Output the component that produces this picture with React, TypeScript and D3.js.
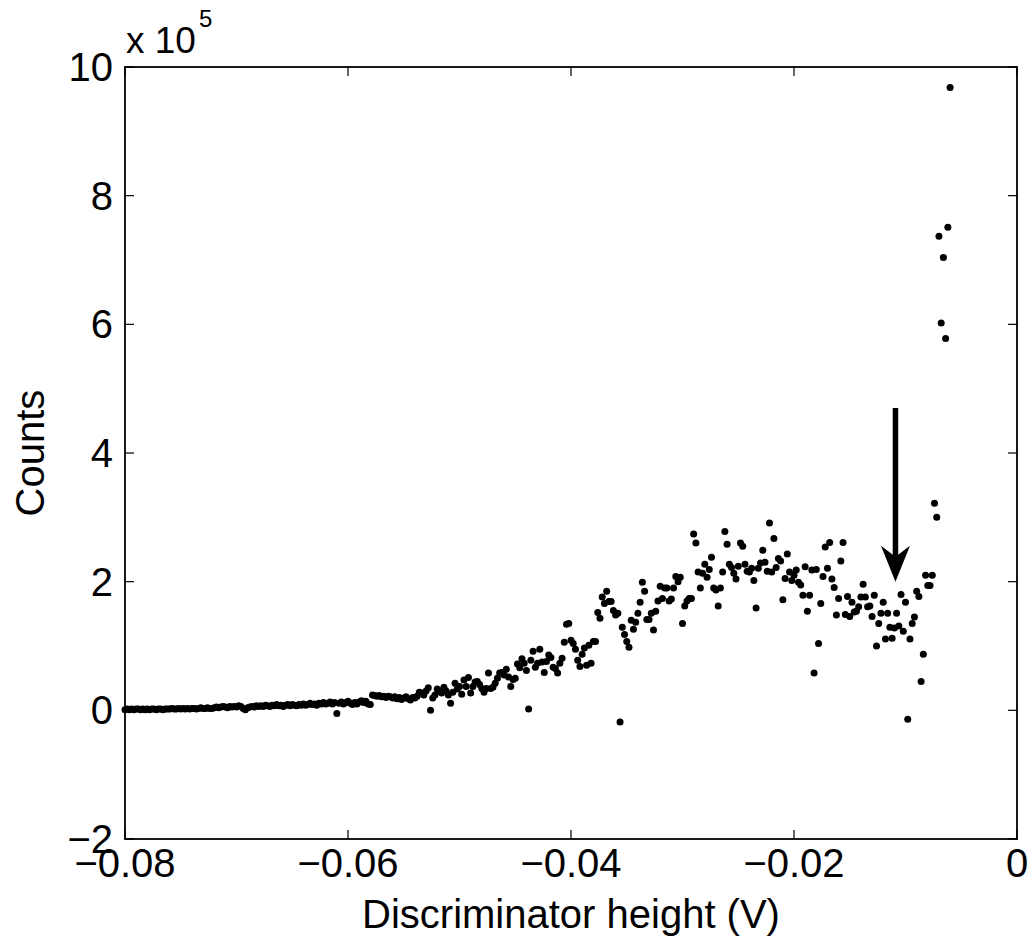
import React from 'react';
import * as d3 from 'd3';

// Discriminator sweep: first threshold and step (V)
const xStart = -0.08;
const xStep = 0.0002;

// Counts (x 10^5), in order of increasing threshold
const countsLow = [
  0.01, 0.02, 0.01, 0.02, 0.01, 0.02, 0.02, 0.01, 0.02, 0.01, 0.02, 0.01, 0.02, 0.02, 0.01, 0.02, 0.02, 0.01, 0.02, 0.02,
  0.02, 0.03, 0.02, 0.02, 0.03, 0.02, 0.03, 0.02, 0.03, 0.02, 0.03, 0.03, 0.02, 0.03, 0.04, 0.03, 0.03, 0.04, 0.03, 0.03,
  0.04, 0.05, 0.04, 0.05, 0.06, 0.05, 0.04, 0.06, 0.05, 0.06, 0.05, 0.07, 0.06, 0.03, 0.01, 0.04, 0.05, 0.06, 0.05, 0.07,
  0.06, 0.07, 0.06, 0.08, 0.07, 0.06, 0.08, 0.07, 0.09, 0.07, 0.08, 0.06, 0.08, 0.09, 0.07, 0.09, 0.08, 0.07, 0.09, 0.08,
  0.10, 0.08, 0.09, 0.11, 0.09, 0.10, 0.08, 0.11, 0.10, 0.12, 0.10, 0.11, 0.13, 0.10, 0.12, -0.05, 0.11, 0.13, 0.10, 0.12,
  0.14, 0.11, 0.09, 0.12, 0.10, 0.13, 0.15, 0.12, 0.14, 0.10, 0.09, 0.24, 0.23, 0.22, 0.23, 0.21, 0.22, 0.20, 0.22, 0.21,
  0.19, 0.21, 0.18, 0.20, 0.17, 0.19, 0.21, 0.18, 0.16, 0.20, 0.19, 0.22,
];

const countsMid = [
  0.28, 0.27, 0.24, 0.30, 0.35, 0.00, 0.19, 0.24, 0.33, 0.30,
  0.27, 0.36, 0.30, 0.24, 0.11, 0.28, 0.42, 0.33, 0.37, 0.25,
  0.47, 0.37, 0.51, 0.27, 0.37, 0.44, 0.45, 0.40, 0.34, 0.28,
  0.34, 0.58, 0.34, 0.36, 0.42, 0.50, 0.58, 0.59, 0.55, 0.64,
  0.52, 0.37, 0.48, 0.50, 0.72, 0.66, 0.80, 0.73, 0.62, 0.02,
  0.78, 0.92, 0.67, 0.73, 0.95, 0.75, 0.59, 0.76, 0.86, 0.82,
  0.67, 0.65, 0.58, 0.73, 0.81, 1.06, 1.34, 1.35, 1.09, 1.04,
  0.95, 0.78, 0.68, 0.87, 0.97, 0.70, 1.01, 0.73, 1.07, 1.07,
  1.52, 1.43, 1.76, 1.66, 1.85, 1.69, 1.69, 1.55, 1.48, 1.51,
  -0.18, 1.29, 1.18, 1.07, 0.98, 1.40, 1.26, 1.37, 1.51, 1.68,
  1.99, 1.85, 1.41, 1.41, 1.51, 1.25, 1.54, 1.70, 1.93, 1.74,
  1.90, 1.90, 1.70, 1.73, 1.90, 2.08, 2.00, 2.07, 1.35, 1.62,
  1.70, 1.74, 1.74,
];

const countsHigh = [
  2.74, 2.60, 2.15, 1.90, 2.13, 2.27, 2.07, 2.19, 2.38, 1.90,
  1.87, 1.62, 1.90, 2.15, 2.78, 2.58, 2.27, 2.22, 2.13, 2.04,
  2.24, 2.60, 2.55, 2.27, 2.16, 2.15, 2.21, 2.02, 1.59, 2.21,
  2.29, 2.49, 2.30, 2.16, 2.91, 2.15, 2.67, 2.22, 2.36, 2.32,
  1.72, 2.05, 2.43, 2.15, 2.02, 2.10, 2.18, 1.99, 1.95, 1.79,
  2.23, 1.54, 1.79, 2.18, 0.58, 2.19, 1.04, 1.66, 2.08, 2.54,
  2.21, 2.61, 2.04, 1.91, 1.48, 1.74, 2.32, 2.61, 1.49, 1.77,
  1.46, 1.68, 1.53, 1.54, 1.61, 1.76, 1.96, 1.76, 1.61, 1.62,
  1.46, 1.79, 1.00, 1.35, 1.51, 1.68, 1.11, 1.51, 1.29, 1.12,
  1.28, 1.51, 1.31, 1.80, 1.23, 1.68, -0.14, 1.11, 1.35, 1.45,
  1.85, 1.77, 0.45, 0.87, 2.10, 1.94, 1.94, 2.10, 3.22, 3.00,
  7.37, 6.02, 7.04, 5.78, 7.51, 9.68,
];

const xTicks = [-0.08, -0.06, -0.04, -0.02, 0];
const xTickLabels = ['\u22120.08', '\u22120.06', '\u22120.04', '\u22120.02', '0'];
const yTicks = [-2, 0, 2, 4, 6, 8, 10];
const yTickLabels = ['\u22122', '0', '2', '4', '6', '8', '10'];

// Arrow annotation (data coords: x in V, y in x10^5)
const arrowX = -0.0109;
const arrowTop = 4.7;
const arrowTip = 2.0;

const W = 1033;
const H = 942;
const M = { left: 125, right: 1017, top: 67, bottom: 839 };
const FONT = '"Liberation Sans", Arial, Helvetica, sans-serif';

export default function App() {
  const counts = [...countsLow, ...countsMid, ...countsHigh];
  const data = counts.map((c, i) => ({ x: xStart + i * xStep, y: c }));

  const x = d3.scaleLinear().domain([-0.08, 0]).range([M.left, M.right]);
  const y = d3.scaleLinear().domain([-2, 10]).range([M.bottom, M.top]);
  const tick = 9;

  const ax = x(arrowX);
  const aTop = y(arrowTop);
  const aTip = y(arrowTip);
  const headLen = 36;
  const headHalf = 14.5;
  const notch = 11;

  return (
    <svg width={W} height={H} style={{ position: 'absolute', left: 0, top: 0, display: 'block', background: '#fff' }}
      fontFamily={FONT}>
      <rect x={0} y={0} width={W} height={H} fill="#fff" />
      {/* points */}
      <g>
        {data.map((d, i) => (
          <circle key={i} cx={x(d.x)} cy={y(d.y)} r={3.5} fill="#000" />
        ))}
      </g>
      {/* arrow */}
      <line x1={ax} y1={aTop} x2={ax} y2={aTip - headLen + notch + 2} stroke="#000" strokeWidth={5.5} />
      <polygon
        points={`${ax},${aTip} ${ax - headHalf},${aTip - headLen} ${ax},${aTip - headLen + notch} ${ax + headHalf},${aTip - headLen}`}
        fill="#000" />
      {/* box */}
      <rect x={M.left} y={M.top} width={M.right - M.left} height={M.bottom - M.top} fill="none" stroke="#000" strokeWidth={1.8} />
      {/* x ticks */}
      {xTicks.map((t, i) => (
        <g key={'xt' + i}>
          <line x1={x(t)} x2={x(t)} y1={M.bottom} y2={M.bottom - tick} stroke="#000" strokeWidth={1.2} />
          <line x1={x(t)} x2={x(t)} y1={M.top} y2={M.top + tick} stroke="#000" strokeWidth={1.2} />
          <text x={x(t)} y={M.bottom + 38} textAnchor="middle" fontSize={40} fill="#000">{xTickLabels[i]}</text>
        </g>
      ))}
      {/* y ticks */}
      {yTicks.map((t, i) => (
        <g key={'yt' + i}>
          <line x1={M.left} x2={M.left + tick} y1={y(t)} y2={y(t)} stroke="#000" strokeWidth={1.2} />
          <line x1={M.right} x2={M.right - tick} y1={y(t)} y2={y(t)} stroke="#000" strokeWidth={1.2} />
          <text x={M.left - 12} y={y(t) + 14} textAnchor="end" fontSize={40} fill="#000">{yTickLabels[i]}</text>
        </g>
      ))}
      {/* exponent */}
      <text x={126} y={53} fontSize={37} fill="#000">x 10</text>
      <text x={199} y={27} fontSize={24} fill="#000">5</text>
      {/* axis labels */}
      <text x={(M.left + M.right) / 2} y={928} textAnchor="middle" fontSize={40} fill="#000">Discriminator height (V)</text>
      <text transform={`translate(44,${(M.top + M.bottom) / 2}) rotate(-90)`} textAnchor="middle" fontSize={40} fill="#000">Counts</text>
    </svg>
  );
}
